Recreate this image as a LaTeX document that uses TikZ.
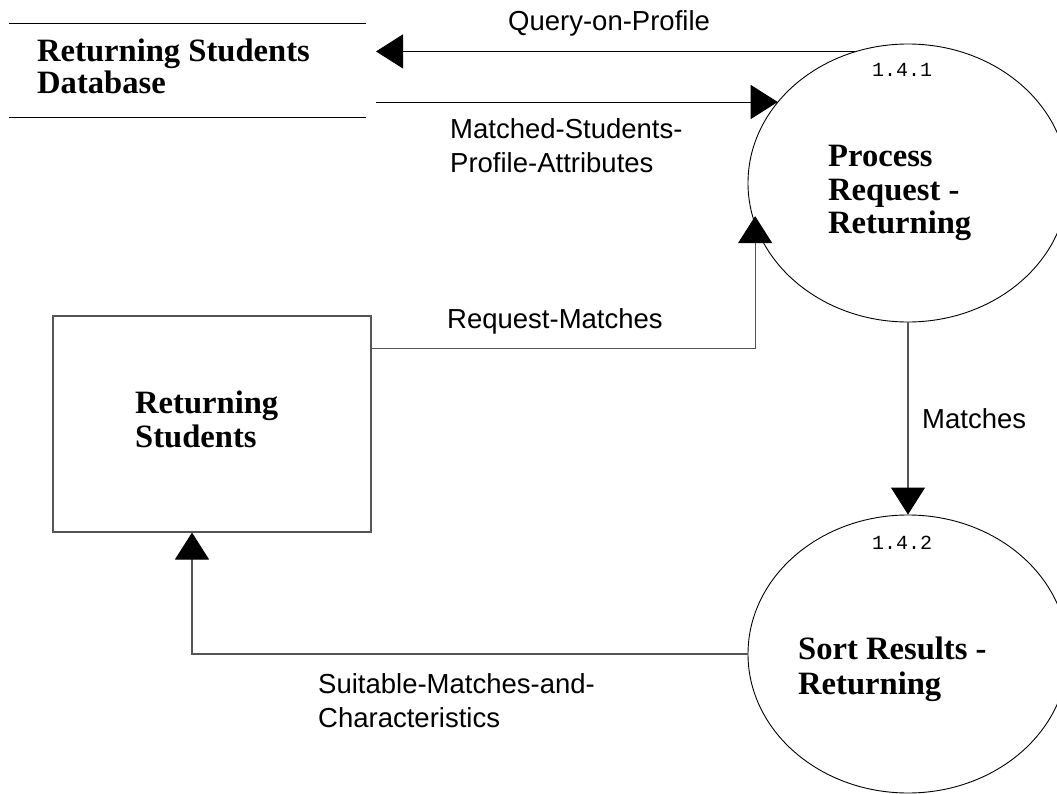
\documentclass[tikz,border=0pt]{standalone}
\usepackage{fontspec}
\setmainfont{Liberation Serif}
\newfontfamily\arialf{Liberation Sans}
\newfontfamily\courf{Liberation Mono}
\usetikzlibrary{shapes.geometric,arrows.meta}
\definecolor{lgray}{RGB}{85,85,85}
\tikzset{
  proc/.style={ellipse, draw=black, line width=0.9pt, minimum width=320pt, minimum height=278pt, inner sep=0pt},
  ent/.style={rectangle, draw=lgray, line width=1.1pt, minimum width=318pt, minimum height=216pt, inner sep=0pt},
  store/.style={rectangle, draw=none, minimum width=357pt, minimum height=93pt, inner sep=0pt},
  lbl/.style={inner sep=0pt, anchor=base west},
  pnum/.style={inner sep=0pt, anchor=base, font=\courf\fontsize{20}{24}\selectfont},
  flow/.style={line width=0.9pt, -{Triangle[length=27pt,width=34pt,color=black]}},
  gflow/.style={flow, draw=lgray, line width=1.1pt},
}
\newcommand{\flab}[1]{\parbox[t]{400pt}{\raggedright\arialf\fontsize{27.5}{34}\selectfont #1}}
\newcommand{\blab}[2]{\parbox[t]{400pt}{\raggedright\bfseries\fontsize{32.6}{#1}\selectfont #2}}
\begin{document}
\begin{tikzpicture}[x=1pt,y=-1pt]
\useasboundingbox[fill=white] (0,0) rectangle (1057,794);
% shapes
\node[proc] (p1) at (908,183) {};
\node[proc] (p2) at (908,654) {};
\node[ent] (b) at (212,424) {};
\node[store] (db) at (187.5,70.5) {};
\draw[line width=0.9pt] (db.north west) -- (db.north east);
\draw[line width=0.9pt] (db.south west) -- (db.south east);
% texts
\node[lbl] (dbt) at (37,62) {\blab{32}{Returning Students\\Database}};
\node[lbl] (p1t) at (828,167) {\blab{33.5}{Process\\Request -\\Returning}};
\node[lbl] (p2t) at (798,659) {\blab{35}{Sort Results -\\Returning}};
\node[lbl] (bt) at (135,413) {\blab{34}{Returning\\Students}};
\node[pnum] (p1n) at (902,77) {1.4.1};
\node[pnum] (p2n) at (902,549) {1.4.2};
% connectors
\coordinate (qend) at (376,52);
\coordinate (mstart) at (376,102);
\draw[flow] (p1.112) -- (p1.112 -| qend);
\draw[flow] (mstart) -- (mstart -| p1.148);
\draw[gflow] ([yshift=-33pt]b.north east) -| ([xshift=3pt]p1.192);
\draw[gflow] (p1.south) -- (p2.north);
\draw[gflow] (p2.west) -| ([xshift=-20pt]b.south);
% connector labels
\node[lbl] (lq) at (508,31) {\flab{Query-on-Profile}};
\node[lbl] (lm) at (450,139) {\flab{Matched-Students-\\Profile-Attributes}};
\node[lbl] (lr) at (447,328) {\flab{Request-Matches}};
\node[lbl] (lmt) at (922,428) {\flab{Matches}};
\node[lbl] (ls) at (318,693) {\flab{Suitable-Matches-and-\\Characteristics}};
\end{tikzpicture}
\end{document}
